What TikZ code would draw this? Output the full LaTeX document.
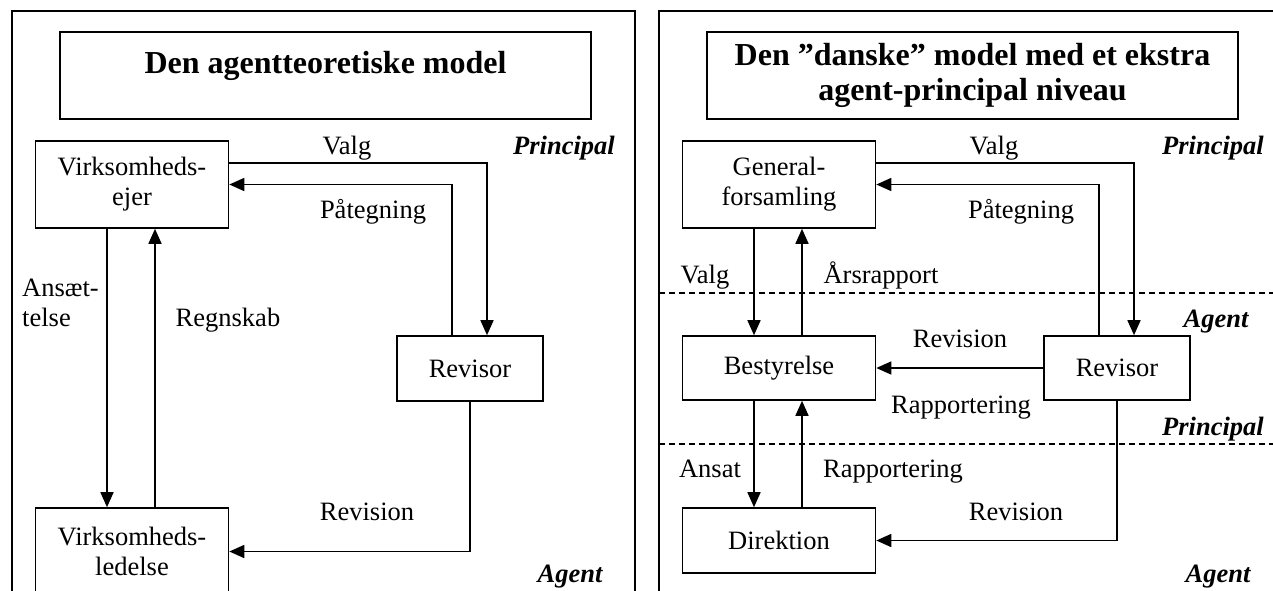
\documentclass[tikz,border=0pt]{standalone}
\usepackage{fontspec}
\setmainfont{Liberation Serif}
\usetikzlibrary{arrows.meta}

\begin{document}
\begin{tikzpicture}[x=1pt,y=-1pt,
  font=\fontsize{26.5}{30}\selectfont,
  blok/.style={draw,line width=1.6pt,minimum width=193pt,inner sep=0pt,align=center},
  titlebox/.style={draw,line width=1.6pt,minimum width=531pt,minimum height=87pt,inner sep=0pt,align=center,font=\fontsize{32}{35}\selectfont\bfseries},
  arr/.style={line width=1.6pt,-{Triangle[length=15pt,width=13pt]}},
  lbl/.style={anchor=base,inner sep=0pt},
  rolle/.style={anchor=base,inner sep=0pt,font=\fontsize{26.5}{30}\selectfont\bfseries\itshape},
  niveau/.style={line width=1.2pt,dash pattern=on 6pt off 4pt},
  ramme/.style={line width=2pt}]
\useasboundingbox (0,0) rectangle (1273,590);

\begin{scope}
	\draw[ramme] (11.5,620) |- (635,11) -- (635,620);
	\node[titlebox,text depth=27pt] (titleL) at (325.5,75.5) {Den agentteoretiske model};
	\node[blok,minimum height=87pt] (ejer) at (132,184.5) {Virksomheds-\\ejer};
	\node[blok,minimum width=146pt,minimum height=65pt] (revL) at (470,368.5) {Revisor};
	\node[blok,minimum height=87pt] (ledelse) at (132,551.5) {Virksomheds-\\ledelse};
	\draw[arr] ([yshift=21.5pt]ejer.east) -| ([xshift=17pt]revL.north);
	\draw[arr] ([xshift=-18pt]revL.north) |- (ejer.east);
	\draw[arr] ([xshift=-25pt]ejer.south) -- ([xshift=-25pt]ledelse.north);
	\draw[arr] ([xshift=23pt]ledelse.north) -- ([xshift=23pt]ejer.south);
	\draw[arr] (revL.south) |- (ledelse.east);
	\node[lbl] (valgL) at (347,154) {Valg};
	\node[lbl] (paaL) at (373,218) {Påtegning};
	\node[lbl,anchor=base west,align=left] (ansL) at (22,326) {Ansæt-\\telse};
	\node[lbl] (regnL) at (228,326) {Regnskab};
	\node[lbl] (revisionL) at (367,520) {Revision};
	\node[rolle] (prinL) at (564,154) {Principal};
	\node[rolle] (agentL) at (570,582) {Agent};
\end{scope}

\begin{scope}[shift={(647,0)}]
	\draw[ramme] (12,620) |- (640,11);
	\node[titlebox] (titleR) at (325.5,75.5) {Den ”danske” model med et ekstra\\agent-principal niveau};
	\node[blok,minimum height=87pt] (gf) at (132,184.5) {General-\\forsamling};
	\node[blok,minimum height=64pt] (best) at (132,368) {Bestyrelse};
	\node[blok,minimum width=146pt,minimum height=64pt] (revR) at (470,368) {Revisor};
	\node[blok,minimum height=65pt] (dir) at (132,540.5) {Direktion};
	\coordinate (n1a) at (12,293);
	\coordinate (n1b) at (640,293);
	\coordinate (n2a) at (12,444);
	\coordinate (n2b) at (640,444);
	\draw[niveau] (n1a) -- (n1b);
	\draw[niveau] (n2a) -- (n2b);
	\draw[arr] ([yshift=21.5pt]gf.east) -| ([xshift=17pt]revR.north);
	\draw[arr] ([xshift=-18pt]revR.north) |- (gf.east);
	\draw[arr] ([xshift=-25pt]gf.south) -- ([xshift=-25pt]best.north);
	\draw[arr] ([xshift=23pt]best.north) -- ([xshift=23pt]gf.south);
	\draw[arr] (revR.west) -- (best.east);
	\draw[arr] ([xshift=-25pt]best.south) -- ([xshift=-25pt]dir.north);
	\draw[arr] ([xshift=23pt]dir.north) -- ([xshift=23pt]best.south);
	\draw[arr] (revR.south) |- (dir.east);
	\node[lbl] (valgR) at (347,154) {Valg};
	\node[lbl] (paaR) at (374,218) {Påtegning};
	\node[lbl] (valgB) at (58,283) {Valg};
	\node[lbl] (aarsR) at (234,283) {Årsrapport};
	\node[lbl] (revisionB) at (313,347) {Revision};
	\node[lbl] (rappB) at (314,413) {Rapportering};
	\node[lbl] (ansat) at (63,477) {Ansat};
	\node[lbl] (rappD) at (246,477) {Rapportering};
	\node[lbl] (revisionD) at (369,520) {Revision};
	\node[rolle] (prinR) at (566,154) {Principal};
	\node[rolle] (agentB) at (569,327) {Agent};
	\node[rolle] (prinB) at (566,435) {Principal};
	\node[rolle] (agentD) at (571,582) {Agent};
\end{scope}
\end{tikzpicture}
\end{document}
